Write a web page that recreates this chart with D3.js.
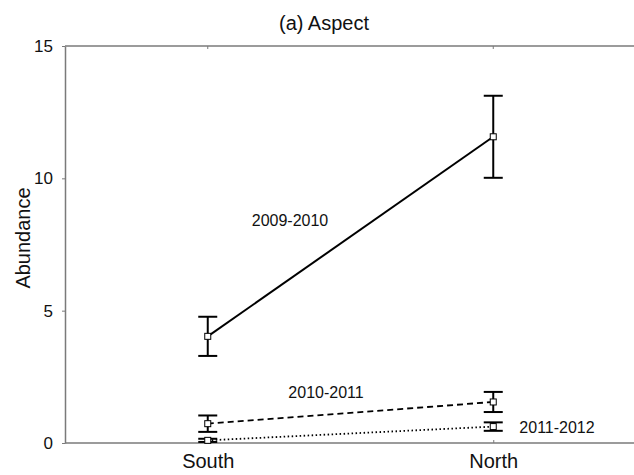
<!DOCTYPE html>
<html>
<head>
<meta charset="utf-8">
<script src="https://cdn.jsdelivr.net/npm/d3@7"></script>
<style>
  body { margin: 0; background: #fff; }
  text { font-family: "Liberation Sans", Arial, sans-serif; }
</style>
</head>
<body>
<div id="chart"></div>
<script>
// values
var aspects = ["South", "North"];
var seasons = ["2009-2010", "2010-2011", "2011-2012"];
var means = [[4.03, 11.57], [0.73, 1.55], [0.1, 0.62]];
var errors = [[0.74, 1.55], [0.31, 0.38], [0.06, 0.16]];
var yTicks = [0, 5, 10, 15];

var margin = { top: 46, right: -2, bottom: 32, left: 65 },
  width = 634 - margin.left - margin.right,
  height = 475 - margin.top - margin.bottom;

var svg = d3
  .select("#chart")
  .append("svg")
  .attr("width", 634)
  .attr("height", 475);

var g = svg.append("g").attr("transform", "translate(" + margin.left + "," + margin.top + ")");

var x = d3.scalePoint().domain(aspects).range([0, width]).padding(0.5);
var y = d3.scaleLinear().domain([0, 15]).range([height, 0]);

// frame
var frameColor = "#7a7a7a";
g.append("line").attr("x1", 0).attr("x2", width + 10).attr("y1", 0).attr("y2", 0)
  .style("stroke", frameColor).style("stroke-width", 1.5);
g.append("line").attr("x1", 0).attr("x2", width + 10).attr("y1", height).attr("y2", height)
  .style("stroke", frameColor).style("stroke-width", 1.5);

// left axis
var yAxis = g.append("g")
  .call(d3.axisLeft(y).tickValues(yTicks).tickSize(3).tickPadding(9).tickSizeOuter(0));
yAxis.select(".domain").style("stroke", frameColor).style("stroke-width", 1.5);
yAxis.selectAll(".tick line").style("stroke", frameColor);
yAxis.selectAll(".tick text").style("font-size", "17px").style("fill", "#111")
  .attr("font-family", "Liberation Sans, Arial, sans-serif");

// bottom axis (ticks inward)
var xAxis = g.append("g")
  .attr("transform", "translate(0," + height + ")")
  .call(d3.axisBottom(x).tickSize(-3).tickPadding(11));
xAxis.select(".domain").remove();
xAxis.selectAll(".tick line").style("stroke", frameColor);
xAxis.selectAll(".tick text").style("font-size", "20px").style("fill", "#111")
  .attr("font-family", "Liberation Sans, Arial, sans-serif");

// top ticks (inward)
g.selectAll(".toptick").data(aspects).enter().append("line")
  .attr("x1", d => x(d)).attr("x2", d => x(d)).attr("y1", 0).attr("y2", 3)
  .style("stroke", frameColor);

// y label
svg.append("text")
  .attr("transform", "translate(30," + 238 + ") rotate(-90)")
  .style("text-anchor", "middle")
  .style("font-size", "20px")
  .attr("fill", "#111")
  .text("Abundance");

// title
svg.append("text")
  .attr("x", 324).attr("y", 30)
  .style("text-anchor", "middle")
  .style("font-size", "20px")
  .attr("fill", "#111")
  .text("(a) Aspect");

var dashes = [null, "6,4", "1.5,2.5"];
var line = d3.line().x((d, i) => x(aspects[i])).y(d => y(d));

seasons.forEach(function(s, k) {
  g.append("path")
    .datum(means[k])
    .attr("d", line)
    .style("fill", "none")
    .style("stroke", "#000")
    .style("stroke-width", k == 0 ? 2 : 1.8)
    .style("stroke-dasharray", dashes[k]);

  var pts = g.selectAll(".pt" + k)
    .data(means[k].map((m, i) => ({ a: aspects[i], m: m, e: errors[k][i] })))
    .enter().append("g");

  pts.append("line")
    .attr("x1", d => x(d.a)).attr("x2", d => x(d.a))
    .attr("y1", d => y(d.m + d.e)).attr("y2", d => y(d.m - d.e))
    .style("stroke", "#000").style("stroke-width", 2);
  pts.append("line")
    .attr("x1", d => x(d.a) - 9.5).attr("x2", d => x(d.a) + 9.5)
    .attr("y1", d => y(d.m + d.e)).attr("y2", d => y(d.m + d.e))
    .style("stroke", "#000").style("stroke-width", 2);
  pts.append("line")
    .attr("x1", d => x(d.a) - 9.5).attr("x2", d => x(d.a) + 9.5)
    .attr("y1", d => y(d.m - d.e)).attr("y2", d => y(d.m - d.e))
    .style("stroke", "#000").style("stroke-width", 2);
  pts.append("rect")
    .attr("x", d => x(d.a) - 3).attr("y", d => y(d.m) - 3)
    .attr("width", 6).attr("height", 6)
    .style("fill", "#fff").style("stroke", "#000").style("stroke-width", 1);
});

// series labels
var labelPos = [[290, 226], [326, 398], [557, 433]];
svg.selectAll(".slabel").data(seasons).enter().append("text")
  .attr("x", (d, i) => labelPos[i][0])
  .attr("y", (d, i) => labelPos[i][1])
  .style("text-anchor", "middle")
  .style("font-size", "16px")
  .attr("fill", "#111")
  .text(d => d);
</script>
</body>
</html>
